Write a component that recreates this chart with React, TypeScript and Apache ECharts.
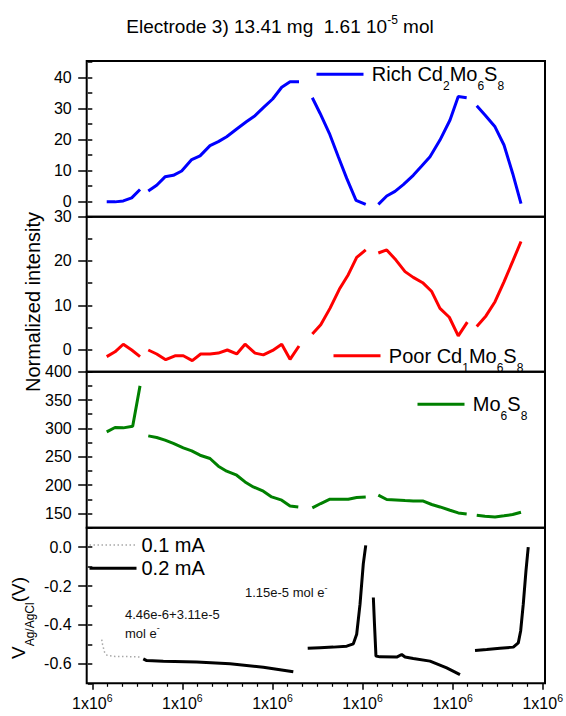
import React, { useEffect, useRef } from "react";
import * as echarts from "echarts";

// ---------------- data (x in axis units, all ticks labelled 1x10^6) ----------------
const X_TICK_LABEL = "1x10";
const X_TICK_EXP = "6";

const richSegments: number[][][] = [
  [[0.159, -0.2], [0.251, -0.2], [0.342, 0.1], [0.435, 1.1], [0.527, 3.8]],
  [[0.618, 3.3], [0.711, 5.2], [0.803, 7.9], [0.895, 8.4], [0.987, 9.8], [1.098, 13.5], [1.19, 14.7], [1.3, 18.0], [1.392, 19.3], [1.484, 20.9], [1.595, 23.4], [1.705, 25.8], [1.797, 27.7], [1.889, 30.3], [1.992, 33.1], [2.092, 36.9], [2.184, 38.7], [2.283, 38.7]],
  [[2.43, 33.5], [2.515, 28.5], [2.618, 22.0], [2.717, 14.4], [2.81, 7.4], [2.913, 0.3], [3.02, -1.0]],
  [[3.159, -1.0], [3.252, 1.7], [3.343, 3.2], [3.435, 5.4], [3.545, 8.4], [3.638, 11.4], [3.73, 14.4], [3.84, 19.8], [3.951, 26.3], [4.042, 33.9], [4.135, 33.5]],
  [[4.246, 30.9], [4.337, 27.9], [4.448, 24.1], [4.547, 18.2], [4.643, 9.0], [4.735, -0.8]],
];

const poorSegments: number[][][] = [
  [[0.159, -1.6], [0.251, -0.5], [0.342, 1.2], [0.435, -0.1], [0.527, -1.6]],
  [[0.618, -0.1], [0.711, -1.0], [0.811, -2.3], [0.913, -1.4], [1.005, -1.4], [1.104, -2.5], [1.197, -1.0], [1.3, -1.0], [1.392, -0.8], [1.491, -0.1], [1.595, -1.0], [1.687, 1.2], [1.797, -0.8], [1.889, -1.2], [1.992, -0.2], [2.092, 1.2], [2.184, -2.2], [2.283, 0.8]],
  [[2.43, 3.5], [2.523, 5.6], [2.625, 9.3], [2.728, 13.6], [2.827, 16.9], [2.92, 20.8], [3.02, 22.5]],
  [[3.159, 21.8], [3.252, 22.5], [3.354, 20.2], [3.454, 17.6], [3.545, 16.3], [3.649, 15.1], [3.749, 13.1], [3.84, 9.3], [3.943, 7.3], [4.042, 3.1], [4.142, 6.2]],
  [[4.246, 5.2], [4.348, 7.6], [4.448, 10.8], [4.547, 15.3], [4.643, 19.9], [4.735, 24.4]],
];

const mo6s8Segments: number[][][] = [
  [[0.159, 293.9], [0.251, 301.7], [0.342, 301.0], [0.446, 304.0], [0.527, 375.0]],
  [[0.618, 286.9], [0.711, 284.0], [0.803, 279.3], [0.895, 273.5], [1.005, 265.7], [1.098, 260.4], [1.19, 252.8], [1.3, 247.0], [1.392, 233.4], [1.484, 224.6], [1.595, 217.5], [1.687, 205.7], [1.778, 196.9], [1.889, 189.3], [1.981, 179.3], [2.092, 173.5], [2.184, 163.4], [2.275, 161.6]],
  [[2.43, 159.9], [2.523, 167.6], [2.625, 175.2], [2.728, 175.2], [2.827, 175.2], [2.92, 178.2], [3.02, 179.3]],
  [[3.159, 182.3], [3.252, 174.7], [3.354, 174.0], [3.454, 172.9], [3.545, 172.2], [3.649, 172.2], [3.749, 165.9], [3.84, 161.6], [3.951, 155.8], [4.042, 151.1], [4.135, 149.3]],
  [[4.246, 147.0], [4.337, 145.2], [4.448, 144.0], [4.547, 145.9], [4.643, 148.2], [4.735, 152.3]],
];

const current01Segments: number[][][] = [
  [[0.104, -0.475], [0.113, -0.5], [0.135, -0.54], [0.162, -0.556], [0.251, -0.562], [0.416, -0.563], [0.546, -0.565]],
];

const current02Segments: number[][][] = [
  [[0.563, -0.574], [0.601, -0.583], [0.784, -0.586], [1.153, -0.591], [1.521, -0.6], [1.889, -0.617], [2.22, -0.641]],
  [[2.379, -0.52], [2.515, -0.517], [2.662, -0.514], [2.81, -0.509], [2.883, -0.497], [2.92, -0.448], [2.957, -0.293], [2.993, -0.086], [3.02, 0.009]],
  [[3.104, -0.259], [3.117, -0.4], [3.133, -0.56], [3.177, -0.564], [3.362, -0.565], [3.417, -0.552], [3.454, -0.565], [3.545, -0.572], [3.73, -0.586], [3.914, -0.621], [4.061, -0.655]],
  [[4.227, -0.531], [4.356, -0.526], [4.503, -0.52], [4.65, -0.514], [4.705, -0.492], [4.731, -0.431], [4.76, -0.293], [4.79, -0.121], [4.815, 0.0]],
];

const SERIES_NAMES = ["Rich Cd2Mo6S8", "Poor Cd1Mo6S8", "Mo6S8", "0.1 mA", "0.2 mA"];
const TITLE_MAIN = "Electrode 3) 13.41 mg  1.61 10";
const TITLE_EXP = "-5";
const TITLE_END = " mol";
const Y_TITLE = "Normalized intensity";
const NOTE_1 = "1.15e-5 mol e";
const NOTE_2A = "4.46e-6+3.11e-5";
const NOTE_2B = "mol e";

// ---------------- layout ----------------
const FONT = "'Liberation Sans', Arial, sans-serif";
const GRID_LEFT = 86.7;
const GRID_RIGHT = 21;
const X_MIN = -0.062;
const X_MAX = 5;
const PANELS = [
  { top: 61, height: 155.7, min: -5, max: 45.4, minor: 5, split: 5, showMax: false, digits: 0 },
  { top: 216.7, height: 155, min: -5, max: 30, minor: 5, split: 4, showMax: true, digits: 0 },
  { top: 371.7, height: 156, min: 125, max: 400, minor: 25, split: 5, showMax: true, digits: 0 },
  { top: 527.7, height: 155.6, min: -0.7, max: 0.1, minor: 0.1, split: 5, showMax: false, digits: 1 },
];

function joinSegments(segs: number[][][]) {
  const out: any[] = [];
  segs.forEach((s, i) => {
    if (i > 0) {
      const prev = segs[i - 1][segs[i - 1].length - 1][0];
      out.push([(prev + s[0][0]) / 2, "-"]);
    }
    s.forEach((p) => out.push([p[0], p[1]]));
  });
  return out;
}

const subRich = {
  t: { fontSize: 20, lineHeight: 22, fontFamily: FONT, color: "#000" },
  s: { fontSize: 12, lineHeight: 12, padding: [24, 0, 0, 0], fontFamily: FONT, color: "#000" },
};

const legendLabels: Record<string, string> = {
  "Rich Cd2Mo6S8": " {t|Rich Cd}{s|2}{t|Mo}{s|6}{t|S}{s|8}",
  "Poor Cd1Mo6S8": " {t|Poor Cd}{s|1}{t|Mo}{s|6}{t|S}{s|8}",
  Mo6S8: " {t|Mo}{s|6}{t|S}{s|8}",
};

const hiddenSymbol = { color: "rgba(0,0,0,0)", borderColor: "rgba(0,0,0,0)", borderWidth: 0, opacity: 0 };

function buildOption() {
  const grids: any[] = PANELS.map((p) => ({
    left: GRID_LEFT,
    right: GRID_RIGHT,
    top: p.top,
    height: p.height,
    show: true,
    borderColor: "#000",
    borderWidth: 2,
    backgroundColor: "transparent",
  }));
  // helper grid holding the bottom tick axis
  grids.push({ left: 92.3, right: 21, top: PANELS[3].top, height: PANELS[3].height, show: false });

  const xAxes: any[] = PANELS.map((_, i) => ({
    type: "value",
    gridIndex: i,
    min: X_MIN,
    max: X_MAX,
    axisLine: { show: false },
    axisTick: { show: false },
    axisLabel: { show: false },
    splitLine: { show: false },
  }));
  xAxes.push({
    type: "value",
    gridIndex: 4,
    min: 0,
    max: 5,
    interval: 1,
    position: "bottom",
    axisLine: { show: false },
    axisTick: { show: true, length: 6.5, lineStyle: { color: "#000", width: 1.5 } },
    minorTick: { show: true, splitNumber: 6, length: 3.5, lineStyle: { color: "#000", width: 1.2 } },
    splitLine: { show: false },
    axisLabel: {
      margin: 11,
      formatter: () => `{a|${X_TICK_LABEL}}{b|${X_TICK_EXP}}`,
      rich: {
        a: { fontSize: 16, lineHeight: 18, fontFamily: FONT, color: "#000" },
        b: { fontSize: 10.5, lineHeight: 11, padding: [0, 0, 10, 0], fontFamily: FONT, color: "#000" },
      },
    },
  });

  const yAxes: any[] = [];
  PANELS.forEach((p, i) => {
    yAxes.push({
      type: "value",
      gridIndex: i,
      position: "left",
      min: p.min,
      max: p.max,
      interval: p.minor,
      axisLine: { show: false },
      axisTick: { show: true, length: 4.5, lineStyle: { color: "#000", width: 1.5 } },
      axisLabel: { show: false },
      splitLine: { show: false },
    });
    yAxes.push({
      type: "value",
      gridIndex: i,
      position: "left",
      min: p.min,
      max: p.max,
      splitNumber: p.split,
      axisLine: { show: false },
      axisTick: { show: true, length: 8.5, lineStyle: { color: "#000", width: 1.5 } },
      axisLabel: {
        show: true,
        margin: 15,
        fontSize: 16,
        fontFamily: FONT,
        color: "#000",
        showMinLabel: false,
        showMaxLabel: p.showMax,
        formatter: (v: number) => (p.digits ? v.toFixed(p.digits) : String(Math.round(v))),
      },
      splitLine: { show: false },
    });
  });
  yAxes.push({ type: "value", gridIndex: 4, show: false, min: 0, max: 1 });

  const lineSeries = (name: string, segs: number[][][], panel: number, color: string, extra: any = {}) => ({
    name,
    type: "line",
    xAxisIndex: panel,
    yAxisIndex: panel * 2,
    data: joinSegments(segs),
    symbol: "none",
    connectNulls: false,
    lineStyle: { color, width: 3, ...extra },
    itemStyle: { color },
  });

  const series = [
    lineSeries(SERIES_NAMES[0], richSegments, 0, "#0000ff"),
    lineSeries(SERIES_NAMES[1], poorSegments, 1, "#ff0000"),
    lineSeries(SERIES_NAMES[2], mo6s8Segments, 2, "#008000"),
    lineSeries(SERIES_NAMES[3], current01Segments, 3, "#a8a8a8", { width: 1.5, type: [1.5, 2.5] }),
    lineSeries(SERIES_NAMES[4], current02Segments, 3, "#000000"),
  ];

  const formulaLegend = (name: string, left: number, centerY: number) => ({
    data: [name],
    left,
    top: centerY - 18,
    padding: 0,
    itemWidth: 47,
    itemHeight: 14,
    selectedMode: false,
    itemStyle: hiddenSymbol,
    lineStyle: { width: 3 },
    formatter: (n: string) => legendLabels[n],
    textStyle: { rich: subRich },
  });

  const legends = [
    formulaLegend(SERIES_NAMES[0], 315, 74.3),
    formulaLegend(SERIES_NAMES[1], 332, 355.7),
    formulaLegend(SERIES_NAMES[2], 416, 404.3),
    {
      data: [SERIES_NAMES[3], SERIES_NAMES[4]],
      orient: "vertical",
      left: 88,
      top: 534,
      padding: 0,
      itemGap: 1.3,
      itemWidth: 47,
      itemHeight: 14,
      selectedMode: false,
      itemStyle: hiddenSymbol,
      lineStyle: { width: "inherit" },
      textStyle: { fontSize: 20, lineHeight: 22, fontFamily: FONT, color: "#000" },
    },
  ];

  const graphic = [
    {
      type: "text",
      x: 280,
      y: 26.7,
      style: {
        text: `{t|${TITLE_MAIN}}{s|${TITLE_EXP}}{t|${TITLE_END}}`,
        align: "center",
        verticalAlign: "middle",
        rich: {
          t: { fontSize: 19, lineHeight: 22, fontFamily: FONT, fill: "#000", color: "#000" },
          s: { fontSize: 12, lineHeight: 12, padding: [0, 0, 14, 0], fontFamily: FONT, fill: "#000", color: "#000" },
        },
      },
    },
    {
      type: "text",
      x: 33,
      y: 302,
      rotation: Math.PI / 2,
      style: {
        text: Y_TITLE,
        fontSize: 20,
        fontFamily: FONT,
        fill: "#000",
        align: "center",
        verticalAlign: "middle",
      },
    },
    {
      type: "text",
      x: 18,
      y: 618,
      rotation: Math.PI / 2,
      style: {
        text: "{t|V}{s|Ag/AgCl}{t|(V)}",
        align: "center",
        verticalAlign: "middle",
        rich: {
          t: { fontSize: 19, lineHeight: 22, fontFamily: FONT, fill: "#000", color: "#000" },
          s: { fontSize: 12, lineHeight: 12, padding: [24, 0, 0, 0], fontFamily: FONT, fill: "#000", color: "#000" },
        },
      },
    },
    ...[
      { x: 245, y: 592.7, text: `{a|${NOTE_1}}{s|-}` },
      { x: 125, y: 614.3, text: `{a|${NOTE_2A}}` },
      { x: 125, y: 633.3, text: `{a|${NOTE_2B}}{s|-}` },
    ].map((n) => ({
      type: "text",
      x: n.x,
      y: n.y,
      style: {
        text: n.text,
        align: "left",
        verticalAlign: "middle",
        rich: {
          a: { fontSize: 13, lineHeight: 15, fontFamily: FONT, fill: "#111", color: "#111" },
          s: { fontSize: 9, lineHeight: 9, padding: [0, 0, 10, 0], fontFamily: FONT, fill: "#111", color: "#111" },
        },
      },
    })),
  ];

  return {
    animation: false,
    backgroundColor: "#fff",
    textStyle: { fontFamily: FONT },
    grid: grids,
    xAxis: xAxes,
    yAxis: yAxes,
    series,
    legend: legends,
    graphic,
  };
}

export default function App() {
  const ref = useRef<HTMLDivElement>(null);
  useEffect(() => {
    if (!ref.current) return;
    const chart = echarts.init(ref.current, null, { renderer: "svg" });
    chart.setOption(buildOption() as any);
    return () => chart.dispose();
  }, []);
  return (
    <div
      ref={ref}
      style={{ position: "fixed", left: 0, top: 0, width: 566, height: 716, background: "#fff" }}
    />
  );
}
